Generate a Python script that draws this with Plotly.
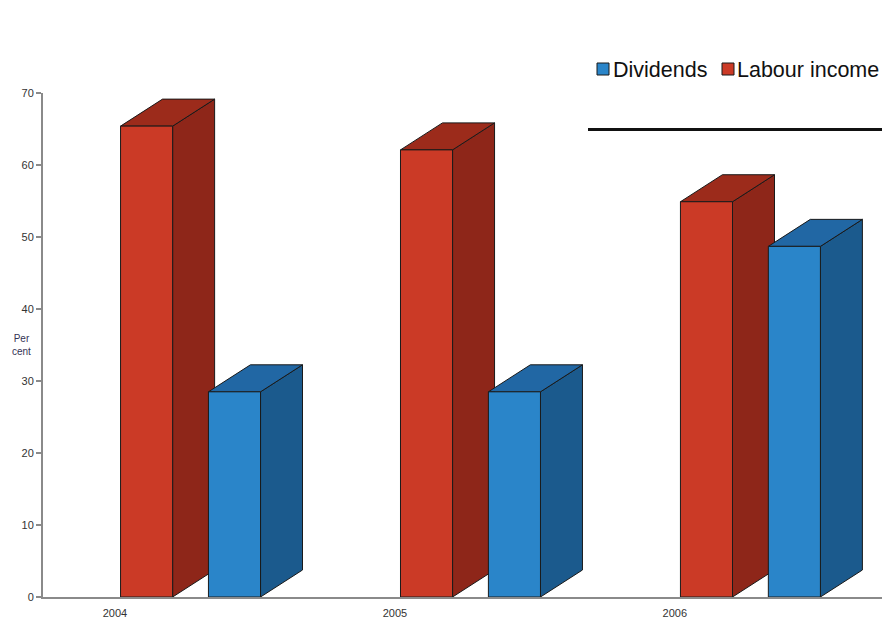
import plotly.graph_objects as go

years = ["2004", "2005", "2006"]
labour_income = [65.4, 62.1, 54.9]
dividends = [28.5, 28.5, 48.7]
y_ticks = [0, 10, 20, 30, 40, 50, 60, 70]

# geometry (x in category units, y in data units)
BAR_W = 0.186
OFFSET = 0.157
DX = 0.15
DY = 3.75

RED = dict(front="#CB3A26", side="#8E2619", top="#9C2B1B")
BLUE = dict(front="#2A85C9", side="#1B5A8D", top="#2167A4")

fig = go.Figure()


def add_box(xc, v, col):
    xl, xr = xc - BAR_W / 2, xc + BAR_W / 2
    line = dict(color="#1a1a1a", width=1)
    # side face
    fig.add_trace(go.Scatter(
        x=[xr, xr + DX, xr + DX, xr, xr], y=[0, DY, v + DY, v, 0],
        fill="toself", fillcolor=col["side"], mode="lines", line=line,
        showlegend=False, hoverinfo="skip"))
    # top face
    fig.add_trace(go.Scatter(
        x=[xl, xr, xr + DX, xl + DX, xl], y=[v, v, v + DY, v + DY, v],
        fill="toself", fillcolor=col["top"], mode="lines", line=line,
        showlegend=False, hoverinfo="skip"))
    # front face
    fig.add_trace(go.Scatter(
        x=[xl, xr, xr, xl, xl], y=[0, 0, v, v, 0],
        fill="toself", fillcolor=col["front"], mode="lines", line=line,
        showlegend=False, hoverinfo="skip"))


for i, (li, dv) in enumerate(zip(labour_income, dividends)):
    add_box(i - OFFSET, li, RED)
    add_box(i + OFFSET, dv, BLUE)

fig.update_layout(
    width=882, height=624,
    margin=dict(l=43, r=0, t=93, b=27),
    paper_bgcolor="white", plot_bgcolor="white",
    showlegend=False,
    font=dict(family="Liberation Sans, Arial, sans-serif", color="#333333"),
    xaxis=dict(
        range=[-0.527, 2.47], showgrid=False, zeroline=False,
        showline=True, linecolor="#8a8a8a", linewidth=2,
        tickvals=[i - 0.27 for i in range(len(years))], ticktext=years,
        ticks="", ticklabelstandoff=5, tickfont=dict(size=11, color="#333333"),
    ),
    yaxis=dict(
        range=[0, 70], showgrid=False, zeroline=False,
        showline=True, linecolor="#8a8a8a", linewidth=2,
        tickvals=y_ticks, ticks="outside", ticklen=5, tickwidth=2,
        tickcolor="#8a8a8a", tickfont=dict(size=11, color="#333333"),
    ),
)

# y-axis title
fig.add_annotation(xref="paper", yref="paper", x=-0.026, y=0.5,
                   xanchor="center", yanchor="middle", showarrow=False,
                   text="Per<br>cent", font=dict(size=10, color="#333355"))

# legend (drawn manually)
fig.add_shape(type="rect", xref="paper", yref="paper",
              x0=(597 - 43) / 839, x1=(609 - 43) / 839,
              y0=(597 - 75) / 504, y1=(597 - 63) / 504,
              fillcolor=BLUE["front"], line=dict(color="#1a1a1a", width=1))
fig.add_annotation(xref="paper", yref="paper", x=(611 - 43) / 839,
                   y=(597 - 70) / 504, xanchor="left", yanchor="middle",
                   showarrow=False, text="Dividends",
                   font=dict(size=21.5, color="#111111"))
fig.add_shape(type="rect", xref="paper", yref="paper",
              x0=(722 - 43) / 839, x1=(734 - 43) / 839,
              y0=(597 - 75) / 504, y1=(597 - 63) / 504,
              fillcolor=RED["front"], line=dict(color="#1a1a1a", width=1))
fig.add_annotation(xref="paper", yref="paper", x=(735 - 43) / 839,
                   y=(597 - 70) / 504, xanchor="left", yanchor="middle",
                   showarrow=False, text="Labour income",
                   font=dict(size=21.5, color="#111111"))

# horizontal black rule at top right
fig.add_shape(type="line", xref="paper", yref="paper",
              x0=(588 - 43) / 839, x1=1.0,
              y0=(597 - 129.5) / 504, y1=(597 - 129.5) / 504,
              line=dict(color="#111111", width=3))

fig.write_html("out.html")
